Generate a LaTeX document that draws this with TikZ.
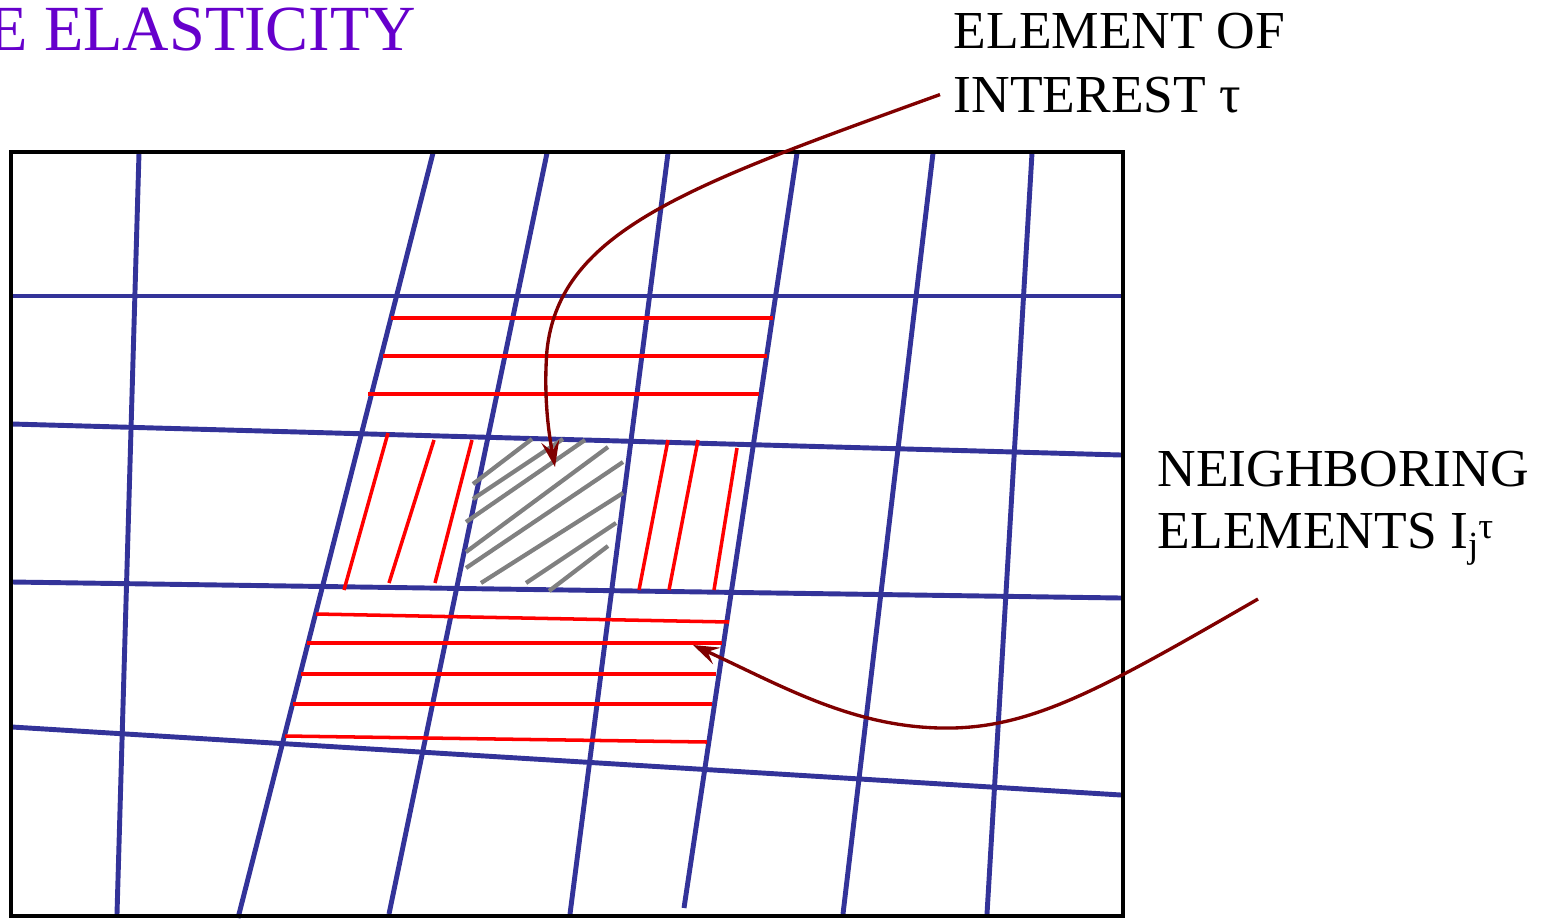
\documentclass[tikz,border=0pt]{standalone}
\usepackage{fontspec}
\setmainfont{Liberation Serif}
\usetikzlibrary{positioning,arrows.meta,calc}
\definecolor{meshblue}{RGB}{51,51,153}
\definecolor{titlepurple}{RGB}{102,0,204}
\definecolor{pointer}{RGB}{128,0,0}
\newcommand{\smallidx}[1]{{\fontsize{10.5}{10.5}\selectfont #1}}
\tikzset{
  mesh/.style={meshblue,line width=1.4pt},
  neighbor/.style={red,line width=1pt},
  hatch/.style={gray,line width=1.2pt},
  callout/.style={pointer,line width=0.95pt,-{Stealth[length=2.6mm,width=1.8mm,inset=1mm]}},
  tagtext/.style={font=\fontsize{15.2}{18}\selectfont,anchor=base west,inner sep=3.7pt}
}

\begin{document}
\begin{tikzpicture}[x=0.01cm,y=-0.01cm]
  \useasboundingbox (0,0) rectangle (1546,921);
  \node[titlepurple,font=\fontsize{18.3}{22}\selectfont,anchor=base west,inner sep=0pt]
     (title) at (-12,50) {E ELASTICITY};

  % mesh
  \draw[mesh] (12,296) -- (1121,296);
  \draw[mesh] (12,424) -- (1121,455);
  \draw[mesh] (12,582) -- (1121,598);
  \draw[mesh] (12,727) -- (1121,795);
  \foreach \xt/\xb/\yb in {139/117/914,433/238/918,547/389/914,668/570/914,
                           797/684/908,933/843/914,1032/987/914}
    \draw[mesh] (\xt,153) -- (\xb,\yb);

  % neighbouring elements
  \foreach \xa/\ya/\xb/\yb in {391/318/773/318,383/356/767/356,368/394/759/394,
      316/614/729/622,307/643/722/643,301/674/716/674,293/704/712/704,285/736/707/742,
      388/433/344/590,434/440/389/583,472/440/435/583,
      668/440/639/590,698/440/669/590,737/448/714/590}
    \draw[neighbor] (\xa,\ya) -- (\xb,\yb);

  % element of interest
  \foreach \xa/\ya/\xb/\yb in {473/484/532/439,473/499/563/439,466/522/585/440,
      466/552/608/447,466/568/623/462,481/583/623/493,526/583/616/523,549/591/608/546}
    \draw[hatch] (\xa,\ya) -- (\xb,\yb);

  \draw[black,line width=1.4pt] (11,152) rectangle (1123,916);

  % labels
  \node[tagtext] (interest1) at (940,48) {ELEMENT OF};
  \node[tagtext] (interest2) at (940,112) {INTEREST τ};
  \node[tagtext] (neigh1) at (1144,486) {NEIGHBORING};
  \node[tagtext] (neigh2) at (1144,548)
     {ELEMENTS I\raisebox{-2.6pt}{\smallidx{j}}\raisebox{2.6pt}{\smallidx{τ}}};

  \coordinate (elem) at (555,467);
  \coordinate (tailN) at (1258,599);
  \coordinate (nbr) at (693,645);

  \draw[callout] (interest2.west) .. controls (690,185) and (560,230) .. (547,350)
     .. controls (543,400) and (550,440) .. (elem);
  \draw[callout] (tailN) .. controls (1100,690) and (1030,730) .. (940,728)
     .. controls (850,726) and (780,685) .. (nbr);
\end{tikzpicture}
\end{document}
